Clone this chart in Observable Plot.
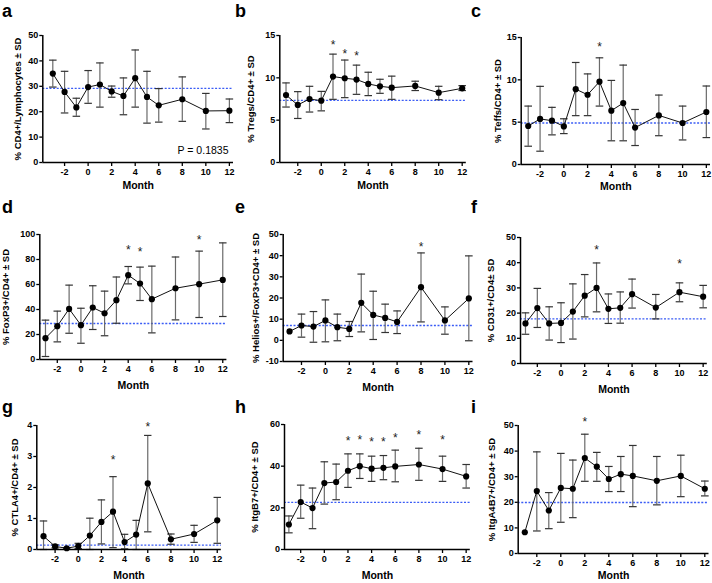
<!DOCTYPE html>
<html><head><meta charset="utf-8">
<script src="https://cdn.jsdelivr.net/npm/d3@7"></script>
<script src="https://cdn.jsdelivr.net/npm/@observablehq/plot@0.6"></script>
<style>
body{margin:0;background:#fff;}
#root{position:relative;width:712px;height:583px;font-family:"Liberation Sans",Arial,sans-serif;overflow:hidden;}
.panel{position:absolute;}
.letter{position:absolute;font-weight:bold;font-size:18px;line-height:18px;color:#000;}
</style></head><body><div id="root"></div>
<script>
// ---------- data ----------
const months = [-3, -2, -1, 0, 1, 2, 3, 4, 5, 6, 8, 10, 12];
const xTicks = [-2, 0, 2, 4, 6, 8, 10, 12];

const aMean = [35.0, 27.8, 21.7, 29.7, 30.7, 28.0, 26.2, 33.2, 25.8, 22.5, 24.9, 20.3, 20.4];
const aLo   = [29.7, 19.5, 18.2, 23.3, 21.8, 25.7, 18.8, 21.8, 15.5, 15.9, 16.2, 13.2, 15.7];
const aHi   = [40.3, 35.9, 25.3, 36.2, 39.2, 30.1, 33.3, 44.3, 35.9, 29.1, 33.7, 27.2, 25.0];

const bMean = [7.97, 6.8, 7.5, 7.3, 10.15, 9.95, 9.8, 9.28, 9.0, 8.84, 9.04, 8.25, 8.76];
const bLo   = [6.55, 5.2, 5.96, 6.1, 7.46, 7.66, 8.05, 7.9, 8.17, 7.46, 8.5, 7.42, 8.5];
const bHi   = [9.4, 8.37, 9.0, 8.4, 12.8, 12.1, 11.5, 10.66, 9.83, 10.2, 9.6, 9.0, 9.08];

const cMean = [4.55, 5.38, 5.18, 4.5, 8.9, 8.24, 9.78, 6.36, 7.26, 4.36, 5.8, 4.9, 6.2];
const cLo   = [2.16, 1.57, 3.5, 3.65, 5.77, 5.77, 6.9, 2.8, 2.8, 2.24, 3.4, 2.9, 3.18];
const cHi   = [6.9, 9.23, 6.75, 5.4, 12.05, 10.7, 12.6, 9.93, 11.74, 6.5, 8.2, 6.9, 9.27];

const dMean = [17.1, 26.7, 40.5, 27.5, 41.6, 37.0, 47.5, 67.5, 60.8, 48.3, 57.0, 60.3, 63.7];
const dLo   = [2.4, 14.1, 21.0, 13.0, 24.0, 19.0, 29.0, 60.5, 47.2, 21.3, 31.7, 33.6, 34.4];
const dHi   = [31.5, 38.7, 59.5, 41.0, 59.0, 54.7, 66.0, 74.4, 73.9, 74.7, 82.0, 86.7, 93.3];

const eMean = [4.2, 7.0, 6.5, 9.4, 6.2, 5.4, 17.7, 12.0, 10.6, 8.7, 25.1, 9.4, 19.8];
const eLo   = [null, 1.5, -0.9, -0.7, -0.2, 1.8, 4.0, 0.4, 3.7, 3.2, 8.7, 2.9, -0.2];
const eHi   = [null, 12.4, 13.6, 19.1, 12.4, 8.9, 31.3, 23.2, 17.1, 13.9, 41.3, 15.8, 39.9];

const fMean = [15.9, 22.0, 15.9, 16.1, 20.6, 26.9, 30.0, 21.7, 22.1, 27.5, 22.2, 28.3, 26.5];
const fLo   = [11.6, 14.3, 9.3, 8.3, 9.7, 18.5, 20.5, 15.9, 16.0, 22.0, 17.7, 24.5, 22.1];
const fHi   = [20.1, 29.8, 22.5, 24.1, 31.6, 35.3, 39.9, 27.6, 28.4, 33.5, 27.4, 32.0, 31.0];

const gMean = [0.43, 0.1, 0.04, 0.11, 0.45, 0.89, 1.22, 0.24, 0.48, 2.13, 0.33, 0.5, 0.94];
const gLo   = [0.0, 0.05, 0.02, 0.03, 0.0, 0.18, 0.06, 0.02, 0.0, 0.57, 0.17, 0.23, 0.2];
const gHi   = [0.92, 0.15, 0.06, 0.2, 1.01, 1.6, 2.35, 0.49, 0.94, 3.68, 0.5, 0.78, 1.68];

const hMean = [12.0, 22.8, 19.9, 31.9, 32.4, 37.8, 40.0, 38.8, 39.2, 39.9, 40.8, 38.6, 35.1];
const hLo   = [8.0, 15.0, 10.0, 21.8, 23.9, 29.8, 34.1, 32.7, 33.5, 32.5, 33.2, 32.7, 29.5];
const hHi   = [16.1, 30.9, 29.5, 42.1, 41.0, 45.9, 45.9, 44.8, 45.1, 47.7, 48.6, 44.8, 40.8];

const iMean = [8.3, 24.4, 16.8, 25.6, 25.3, 37.3, 33.9, 29.1, 31.0, 30.3, 28.4, 30.3, 25.3];
const iLo   = [null, 8.8, 9.7, 12.2, 14.0, 28.2, 28.2, 24.2, 24.2, 18.3, 19.0, 22.2, 22.5];
const iHi   = [null, 39.7, 23.8, 39.1, 36.5, 46.6, 39.5, 34.0, 37.9, 42.2, 37.9, 38.4, 28.3];

const letters = ["a", "b", "c", "d", "e", "f", "g", "h", "i"];
const yLabels = [
  "% CD4+/Lymphocytes ± SD", "% Tregs/CD4+ ± SD", "% Teffs/CD4+ ± SD",
  "% FoxP3+/CD4+ ± SD", "% Helios+/FoxP3+CD4+ ± SD", "% CD31+/CD4± SD",
  "% CTLA4+/CD4+ ± SD", "% ItgB7+/CD4+ ± SD", "% ItgA4B7+/CD4+ ± SD"
];
const refValues = [29.2, 7.34, 4.9, 28.8, 7.0, 17.7, 0.14, 22.6, 19.9];
const yDomains = [[0, 50], [0, 15], [0, 15], [0, 100], [-10, 50], [0, 50], [0, 4], [0, 60], [0, 50]];
const yTicks = [
  [0, 10, 20, 30, 40, 50], [0, 5, 10, 15], [0, 5, 10, 15],
  [0, 20, 40, 60, 80, 100], [-10, 0, 10, 20, 30, 40, 50], [0, 10, 20, 30, 40, 50],
  [0, 1, 2, 3, 4], [0, 20, 40, 60], [0, 10, 20, 30, 40, 50]
];
const starMonths = [[], [1, 2, 3], [3], [4, 5, 10], [8], [3, 10], [3, 6], [2, 3, 4, 5, 6, 8, 10], [2]];
const starValues = [[], [14.2, 13.2, 12.9], [14.2], [89.6, 88, 98], [45.6], [46.3, 40.7], [2.98, 4.03],
  [53.4, 53.9, 52.8, 53.1, 55.0, 56.5, 53.7], [52.6]];
const pValueText = "P = 0.1835";
const xLabel = "Month";

const means = [aMean, bMean, cMean, dMean, eMean, fMean, gMean, hMean, iMean];
const los = [aLo, bLo, cLo, dLo, eLo, fLo, gLo, hLo, iLo];
const his = [aHi, bHi, cHi, dHi, eHi, fHi, gHi, hHi, iHi];

// ---------- layout (pixels) ----------
const colL = [0, 237, 474], colW = [237, 237, 238];
const rowT = [0, 195, 390], rowH = [195, 195, 193];
// frame boxes: [left, right, top, bottom, xmin]
const frames = [
  [42.3, 233, 35, 162, -3.85], [279.3, 465.8, 35, 162, -3.53], [520.7, 710, 37, 164, -3.59],
  [39.3, 226.4, 234, 359, -3.48], [282.7, 472.5, 234, 361, -3.53], [520, 706.8, 237, 363, -3.42],
  [36.3, 220.8, 425, 549, -3.58], [284, 469.8, 424, 549, -3.37], [517.7, 708.5, 425, 553, -3.55]
];
const yLabelDx = [25, 29, 23, 34, 27, 29.5, 21.6, 29.5, 26];
const monthDy = [23.5, 23.5, 22, 25.7, 25.7, 25.7, 26.5, 26.5, 22.5];
const letterPos = [[2, 1.5], [235, 1.5], [471, 1.5], [2, 197.5], [235, 197.5], [471, 197.5], [2, 397.5], [235, 397.5], [471, 397.5]];
const XMAX = 12.35;

const root = document.getElementById("root");
const font = '"Liberation Sans", Arial, sans-serif';

for (let k = 0; k < 9; k++) {
  const col = k % 3, row = Math.floor(k / 3);
  const L = colL[col], W = colW[col], T = rowT[row], H = rowH[row];
  const [fx0, fx1, fy0, fy1, xmin] = frames[k];
  const rows = months.map((m, i) => ({m, v: means[k][i], lo: los[k][i], hi: his[k][i]}));
  const bars = rows.filter(d => d.lo != null);
  const stars = starMonths[k].map((m, i) => ({m, y: starValues[k][i]}));
  const cap = 0.32;
  const ydom = yDomains[k];

  const marks = [
    Plot.ruleY([refValues[k]], {stroke: "#3a5cf5", strokeWidth: 1.4, strokeDasharray: "2,1.6"}),
    Plot.ruleX(bars, {x: "m", y1: "lo", y2: "hi", stroke: "#6a6a6a", strokeWidth: 1.2}),
    Plot.link(bars, {x1: d => d.m - cap, x2: d => d.m + cap, y1: "hi", y2: "hi", stroke: "#333", strokeWidth: 1.2}),
    Plot.link(bars, {x1: d => d.m - cap, x2: d => d.m + cap, y1: "lo", y2: "lo", stroke: "#333", strokeWidth: 1.2}),
    Plot.line(rows, {x: "m", y: "v", stroke: "#111", strokeWidth: 1}),
    Plot.dot(rows, {x: "m", y: "v", r: 3.1, fill: "#000", stroke: "none"}),
    Plot.text(stars, {x: "m", y: "y", text: () => "*", fontSize: 12, fontWeight: "normal", dy: 3, fill: "#222"}),
    Plot.ruleX([xmin], {stroke: "#000", strokeWidth: 1.5}),
    Plot.ruleY([ydom[0]], {stroke: "#000", strokeWidth: 1.5}),
    Plot.axisX({ticks: xTicks, tickSize: 4, tickPadding: 2, label: null, fontSize: 9, fontWeight: "bold",
      strokeWidth: 1.3, tickFormat: d => String(d)}),
    Plot.axisY({ticks: yTicks[k], tickSize: 3, tickPadding: 1.5, label: null, fontSize: 9, fontWeight: "bold",
      strokeWidth: 1.3, tickFormat: d => String(d)}),
    Plot.text([xLabel], {frameAnchor: "bottom", dy: monthDy[k], text: d => d, fontSize: 10.5, fontWeight: "bold",
      lineAnchor: "middle", textAnchor: "middle"}),
    Plot.text([yLabels[k]], {frameAnchor: "left", rotate: -90, dx: -yLabelDx[k], text: d => d, fontSize: 9.5,
      fontWeight: "bold", textAnchor: "middle", lineAnchor: "middle"})
  ];
  if (k === 0) {
    marks.push(Plot.text([pValueText], {frameAnchor: "bottom-right", dx: -5, dy: -12, text: d => d,
      textAnchor: "end", lineAnchor: "middle", fontSize: 10.5, fontWeight: "normal"}));
  }

  const chart = Plot.plot({
    width: W, height: H,
    marginLeft: fx0 - L, marginRight: L + W - fx1,
    marginTop: fy0 - T, marginBottom: T + H - fy1,
    x: {domain: [xmin, XMAX]},
    y: {domain: ydom},
    style: {fontFamily: font, color: "#000", background: "transparent", overflow: "visible"},
    marks
  });
  const div = document.createElement("div");
  div.className = "panel";
  div.style.left = L + "px"; div.style.top = T + "px";
  div.appendChild(chart);
  root.appendChild(div);

  const lt = document.createElement("div");
  lt.className = "letter";
  lt.textContent = letters[k];
  lt.style.left = letterPos[k][0] + "px"; lt.style.top = letterPos[k][1] + "px";
  root.appendChild(lt);
}
</script>
</body></html>
